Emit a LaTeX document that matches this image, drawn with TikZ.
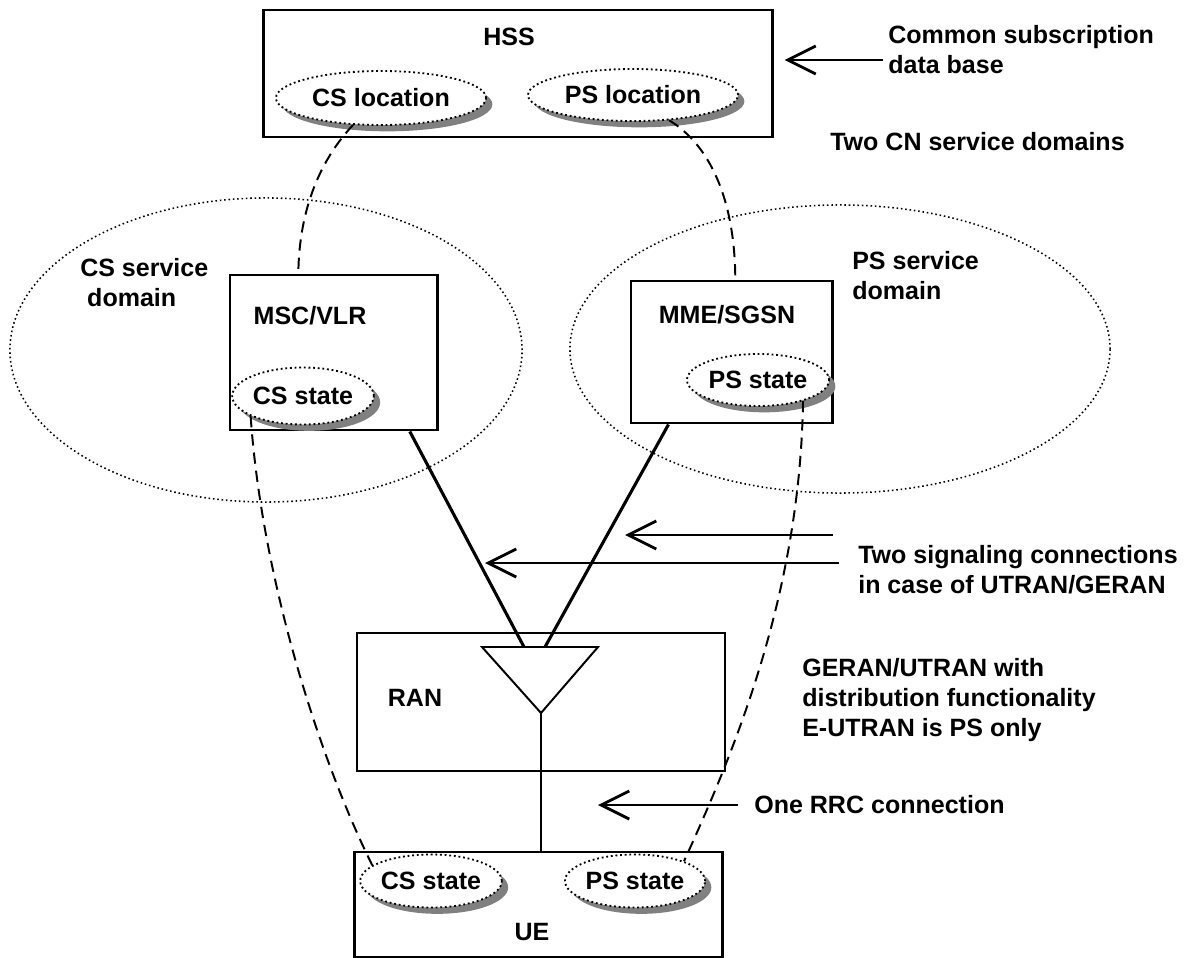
\documentclass[tikz,border=0pt]{standalone}
\usepackage{fontspec}
\setmainfont{Liberation Sans}
\usetikzlibrary{shapes.geometric,shadows,arrows.meta}

\tikzset{
  box/.style={rectangle,draw,line width=2.1pt,inner sep=0pt},
  lbl/.style={inner sep=0pt},
  note/.style={inner sep=0pt,align=left,anchor=west},
  store/.style={ellipse,draw,dotted,line width=1.3pt,fill=white,inner sep=0pt,
    drop shadow={shadow xshift=4.5pt,shadow yshift=-4.5pt,fill=gray,opacity=1}},
  svcdomain/.style={ellipse,draw,dotted,line width=1.1pt,inner sep=0pt},
  link/.style={line width=1.4pt,dash pattern=on 8pt off 5pt},
  sig/.style={line width=2.2pt},
  pointer/.style={-{Straight Barb[length=20pt,width=20pt]},line width=2pt}
}

\begin{document}
\begin{tikzpicture}[x=0.025cm,y=-0.025cm,font=\fontsize{17.8}{21.3}\selectfont\bfseries]
\useasboundingbox (0,0) rectangle (1195,958);

% service domains
\node at (266,350) [svcdomain,minimum width=12.8cm,minimum height=7.6cm] (csdom) {};
\node at (840,349) [svcdomain,minimum width=13.5cm,minimum height=7.2cm] (psdom) {};
\node at (80,283) [note] (csdomlbl) {CS service\\\ domain};
\node at (852,276) [note] (psdomlbl) {PS service\\domain};

% HSS
\node at (518,73.5) [box,minimum width=12.7cm,minimum height=3.175cm] (hss) {};
\node at (509,37) [lbl] (hsslbl) {HSS};
\node at (381,98) [store,minimum width=5.25cm,minimum height=1.35cm] (csloc) {CS location};
\node at (633,95) [store,minimum width=5.25cm,minimum height=1.3cm] (psloc) {PS location};

% core nodes
\node at (333.5,352.5) [box,minimum width=5.175cm,minimum height=3.875cm] (msc) {};
\node at (310,316) [lbl] (msclbl) {MSC/VLR};
\node at (303,396) [store,minimum width=3.5cm,minimum height=1.425cm] (csst) {CS state};
\node at (731.5,352) [box,minimum width=5.025cm,minimum height=3.55cm] (mme) {};
\node at (727,315) [lbl] (mmelbl) {MME/SGSN};
\node at (758,380) [store,minimum width=3.55cm,minimum height=1.3cm] (psst) {PS state};

% RAN
\node at (541,702) [box,line width=1.7pt,minimum width=9.2cm,minimum height=3.45cm] (ran) {};
\node at (415,698) [lbl] (ranlbl) {RAN};
\coordinate (forkl) at (482,647);
\coordinate (forkr) at (598,647);
\coordinate (fork) at (541,713);
\coordinate (incs) at (524,647);
\coordinate (inps) at (545,647);
\draw[line width=1.4pt,line join=miter] (forkl) -- (forkr) -- (fork) -- cycle;

% UE
\node at (538.5,904.5) [box,minimum width=9.175cm,minimum height=2.625cm] (ue) {};
\node at (532,932) [lbl] (uelbl) {UE};
\node at (431,881) [store,minimum width=3.5cm,minimum height=1.325cm] (uecs) {CS state};
\node at (635,881) [store,minimum width=3.5cm,minimum height=1.325cm] (ueps) {PS state};

% dashed state links
\draw[link] (csloc.224) .. controls (320,160) and (299,210) .. (msc.114);
\draw[link] (psloc.-35) .. controls (710,145) and (735,200) .. (mme.87);
\draw[link] (csst.201) .. controls (262,580) and (320,760) .. (uecs.165);
\draw[link] (psst.-25) .. controls (800,600) and (730,760) .. (ueps.22);

% signaling
\draw[sig] (msc.-46.5) -- (incs);
\draw[sig] (mme.229.6) -- (inps);
\draw[line width=1.4pt] (fork) -- (ue.north -| fork);

% notes
\node at (888,50) [note] (cmn) {Common subscription\\data base};
\node at (830,142) [note] (twocn) {Two CN service domains};
\node at (858,570) [note] (twosig) {Two signaling connections\\in case of UTRAN/GERAN};
\node at (802,700) [note] (dist) {GERAN/UTRAN with\\distribution functionality\\E-UTRAN is PS only};
\node at (754,805) [note] (rrc) {One RRC connection};

\coordinate (cmntail) at (883,60);
\coordinate (sigtail1) at (833,535);
\coordinate (sigtip1) at (625,535);
\coordinate (sigtail2) at (839,563);
\coordinate (sigtip2) at (485,563);
\coordinate (rrctail) at (738,805);
\coordinate (rrctip) at (598,805);
\draw[pointer,shorten >=7.8pt] (cmntail) -- (hss.east |- cmntail);
\draw[pointer] (sigtail1) -- (sigtip1);
\draw[pointer] (sigtail2) -- (sigtip2);
\draw[pointer] (rrctail) -- (rrctip);
\end{tikzpicture}
\end{document}
